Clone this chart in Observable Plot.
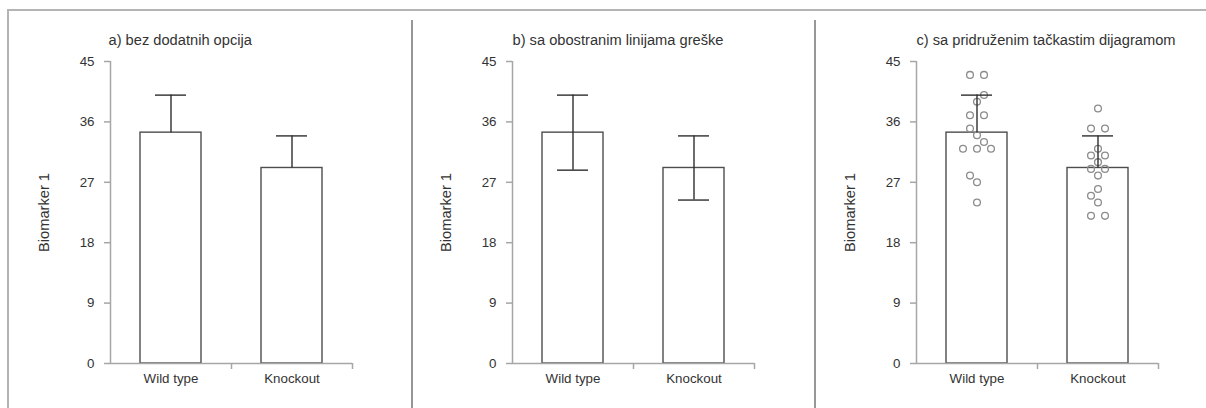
<!DOCTYPE html>
<html>
<head>
<meta charset="utf-8">
<script src="https://cdn.jsdelivr.net/npm/d3@7"></script>
<script src="https://cdn.jsdelivr.net/npm/@observablehq/plot@0.6"></script>
<style>
  body { margin: 0; background: #fff; }
  #page { position: relative; width: 1206px; height: 408px; overflow: hidden; background: #fff;
          font-family: "Liberation Sans", Arial, sans-serif; }
  .panel { position: absolute; top: 0; width: 400px; height: 408px; }
  .frame-top { position: absolute; left: 7px; top: 9px; width: 1199px; height: 2px; background: #b4b4b4; z-index: 2; }
  .frame-left { position: absolute; left: 7px; top: 9px; width: 2px; height: 399px; background: #b4b4b4; z-index: 2; }
  .sep { position: absolute; top: 20px; width: 2px; height: 388px; background: #979797; z-index: 2; }
</style>
</head>
<body>
<div id="page">
  <div class="frame-top"></div>
  <div class="frame-left"></div>
  <div class="sep" style="left:411px"></div>
  <div class="sep" style="left:814px"></div>
</div>
<script>
// Groups and individual measurements of Biomarker 1
const groups = ["Wild type", "Knockout"];
const wildType = [43, 43, 40, 39, 37, 37, 35, 34, 33, 32, 32, 32, 28, 27, 24];
const knockout = [38, 35, 35, 32, 31, 31, 30, 29, 29, 28, 26, 25, 24, 22, 22];
const yTicks = [0, 9, 18, 27, 36, 45];
const yLabel = "Biomarker 1";
const titles = [
  "a) bez dodatnih opcija",
  "b) sa obostranim linijama greške",
  "c) sa pridruženim tačkastim dijagramom"
];

// Shared look
const axisColor = "#a6a6a6";
const barStroke = "#4d4d4d";
const errColor = "#2e2e2e";
const dotColor = "#8c8c8c";
const textColor = "#333333";
const font = "'Liberation Sans', Arial, sans-serif";

const W = 400, H = 408;
const mLeft = 110, plotW = 242, mTop = 61, mBottom = 45;
const bandPx = plotW / groups.length;
const pxPerUnit = (H - mTop - mBottom) / 45;

// Summary statistics per group: mean and standard deviation
const samples = [wildType, knockout];
const stats = groups.map((g, i) => {
  const mean = d3.mean(samples[i]);
  const sd = d3.deviation(samples[i]);
  return {group: g, i, mean, sd, lo: mean - sd, hi: mean + sd};
});

// Scatter layout: equal values share a row, rows that would overlap a
// neighbour row get nudged half a step, alternating left and right.
function scatterLayout(values, i, step = 7, diam = 7) {
  const placed = [];
  let side = -1;
  const rows = d3.rollups(values, v => v.length, d => d).sort((a, b) => a[0] - b[0]);
  for (const [v, n] of rows) {
    let offs = d3.range(n).map(k => (k - (n - 1) / 2) * 2 * step);
    const hit = o => placed.some(p => Math.hypot(p.dx - o, (p.value - v) * pxPerUnit) < diam - 1e-6);
    if (offs.some(hit)) { offs = offs.map(o => o + side * step); side = -side; }
    for (const o of offs) placed.push({group: groups[i], i, value: v, dx: o});
  }
  return placed;
}
const points = samples.flatMap((vals, i) => scatterLayout(vals, i));

const capHalf = 15.5 / bandPx;   // half width of error bar caps, in band units
const barHalf = 30.5 / bandPx;   // half width of bars, in band units

function panel(k) {
  const both = k === 1, withDots = k === 2;
  const marks = [
    // bars
    Plot.rectY(stats, {x1: d => d.i + 0.5 - barHalf, x2: d => d.i + 0.5 + barHalf, y1: 0, y2: "mean",
      fill: "white", stroke: barStroke, strokeWidth: 1.4}),
    // axes
    Plot.ruleX([0], {stroke: axisColor, strokeWidth: 1.5}),
    Plot.ruleY([0], {stroke: axisColor, strokeWidth: 1.5}),
    Plot.axisY({ticks: yTicks, tickSize: 6, tickPadding: 10, stroke: axisColor, strokeWidth: 1.5,
      fill: textColor, fontSize: 13.33, label: null}),
    Plot.axisX({ticks: [1, 2], tickSize: 6, tickFormat: () => "", stroke: axisColor, strokeWidth: 1.5, label: null}),
    Plot.axisX({ticks: [0.5, 1.5], tickSize: 0, tickPadding: 10, tickFormat: t => groups[Math.floor(t)],
      fill: textColor, fontSize: 13.33, label: null}),
  ];
  if (withDots) {
    marks.push(Plot.dot(points, {x: d => d.i + 0.5 + d.dx / bandPx, y: "value", r: 3.4,
      fill: "none", stroke: dotColor, strokeWidth: 1.3}));
  }
  // error bars (mean ± SD)
  marks.push(
    Plot.ruleX(stats, {x: d => d.i + 0.5, y1: both ? "lo" : "mean", y2: "hi", stroke: errColor, strokeWidth: 1.4}),
    Plot.ruleY(stats, {y: "hi", x1: d => d.i + 0.5 - capHalf, x2: d => d.i + 0.5 + capHalf, stroke: errColor, strokeWidth: 1.4})
  );
  if (both) {
    marks.push(Plot.ruleY(stats, {y: "lo", x1: d => d.i + 0.5 - capHalf, x2: d => d.i + 0.5 + capHalf,
      stroke: errColor, strokeWidth: 1.4}));
  }
  // panel title and y-axis title
  marks.push(
    Plot.text([titles[k]], {text: d => d, frameAnchor: "top-left", textAnchor: "start", lineAnchor: "middle",
      dx: k === 0 ? -2 : 0, dy: -21, fontSize: 14.67, fill: textColor}),
    Plot.text([yLabel], {text: d => d, frameAnchor: "left", rotate: -90, textAnchor: "middle", lineAnchor: "middle",
      dx: -66, fontSize: 14.67, fill: textColor})
  );
  return Plot.plot({
    width: W, height: H,
    marginLeft: mLeft, marginRight: W - mLeft - plotW, marginTop: mTop, marginBottom: mBottom,
    x: {domain: [0, groups.length], axis: null},
    y: {domain: [0, 45], axis: null},
    style: {fontFamily: font, background: "transparent", color: textColor},
    marks
  });
}

const page = document.getElementById("page");
[0, 402, 806].forEach((left, k) => {
  const div = document.createElement("div");
  div.className = "panel";
  div.style.left = left + "px";
  div.appendChild(panel(k));
  page.insertBefore(div, page.firstChild);
});
</script>
</body>
</html>
